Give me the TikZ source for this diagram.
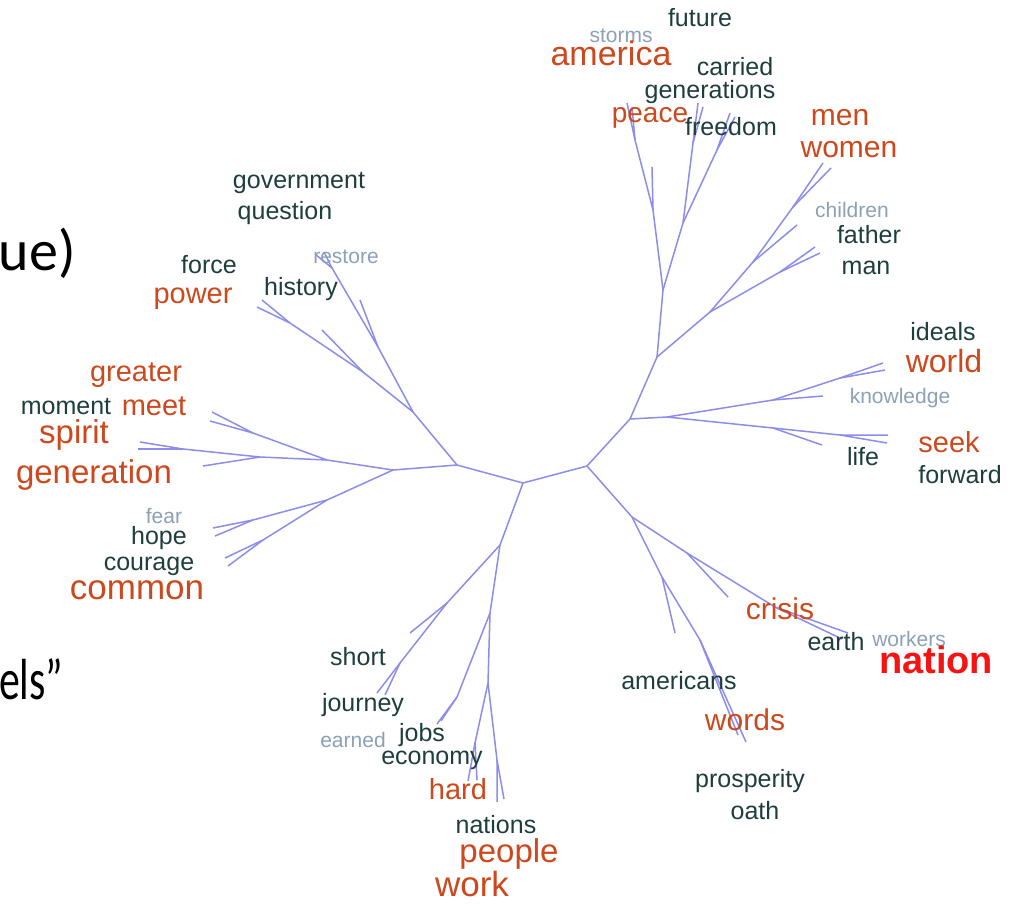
\documentclass[tikz,border=0pt]{standalone}
\usepackage{fontspec}
\usepackage{graphicx}
\setmainfont{Liberation Sans}
\newfontfamily\slidefont{Carlito}
\definecolor{treeblue}{RGB}{140,140,235}
\definecolor{hotred}{RGB}{205,72,28}
\definecolor{nationred}{RGB}{245,20,20}
\definecolor{darkword}{RGB}{30,62,60}
\definecolor{faintword}{RGB}{140,160,182}
\tikzset{
  branch/.style={draw=treeblue, line width=1.5pt, line join=round},
  plain/.style={text=darkword, inner sep=0pt, font=\fontsize{25}{28}\selectfont},
  faint/.style={text=faintword, inner sep=0pt, font=\fontsize{21}{24}\selectfont},
  hot/.style={text=hotred, inner sep=0pt, font=\fontsize{#1}{#1}\selectfont},
  hot/.default=29,
  slide/.style={text=black, inner sep=0pt, font=\slidefont\fontsize{58}{60}\selectfont}
}
\begin{document}
\begin{tikzpicture}[x=1pt,y=-1pt]
  \useasboundingbox (0,0) rectangle (1017,903);
  % cut-off slide text at the left edge
  \node[slide, anchor=base east] (cutA) at (76,270) {ue)};
  \node[slide, anchor=base west] (cutB) at (-1,699) {\scalebox{0.72}[1]{els”}};

  % hubs
  \coordinate (hubL) at (457,465);
  \coordinate (hubB) at (523,483);
  \coordinate (hubR) at (587,466);
  \draw[branch] (hubL) -- (hubB) -- (hubR);

  % upper left
  \coordinate (jQ) at (413,412);
  \coordinate (jR) at (378,347);  \coordinate (rA) at (360,300);
  \coordinate (jRs) at (332,268); \coordinate (rB) at (315,254); \coordinate (rC) at (324,252);
  \coordinate (jP2) at (363,372); \coordinate (pA) at (322,330);
  \coordinate (jP1) at (290,323); \coordinate (pB) at (257,307); \coordinate (pC) at (262,300);
  \draw[branch] (hubL) -- (jQ) -- (jR) -- (jRs) -- (rB);
  \draw[branch] (jRs) -- (rC);
  \draw[branch] (jR) -- (rA);
  \draw[branch] (jQ) -- (jP2) -- (jP1) -- (pB);
  \draw[branch] (jP1) -- (pC);
  \draw[branch] (jP2) -- (pA);

  % left
  \coordinate (jL) at (393,470);
  \coordinate (jM1) at (327,460);
  \coordinate (jG1) at (253,433); \coordinate (gA) at (212,412); \coordinate (gB) at (210,421);
  \coordinate (jM2) at (260,457); \coordinate (gC) at (203,466);
  \coordinate (jS1) at (183,449); \coordinate (sA) at (140,442); \coordinate (sB) at (138,449);
  \draw[branch] (hubL) -- (jL) -- (jM1) -- (jG1) -- (gA);
  \draw[branch] (jG1) -- (gB);
  \draw[branch] (jM1) -- (jM2) -- (jS1) -- (sA);
  \draw[branch] (jS1) -- (sB);
  \draw[branch] (jM2) -- (gC);
  \coordinate (jH0) at (327,500);
  \coordinate (jH1) at (253,520); \coordinate (hA) at (213,528); \coordinate (hB) at (215,536);
  \coordinate (jH2) at (263,540); \coordinate (hC) at (225,558); \coordinate (hD) at (228,566);
  \draw[branch] (jL) -- (jH0) -- (jH1) -- (hA);
  \draw[branch] (jH1) -- (hB);
  \draw[branch] (jH0) -- (jH2) -- (hC);
  \draw[branch] (jH2) -- (hD);

  % bottom
  \coordinate (jB1) at (500,545);
  \coordinate (jB2) at (447,603); \coordinate (bA) at (410,633);
  \coordinate (jB3) at (400,663); \coordinate (bB) at (377,693); \coordinate (bC) at (385,695);
  \coordinate (jB4) at (490,613);
  \coordinate (jB5) at (457,697); \coordinate (bD) at (437,724); \coordinate (bE) at (441,721);
  \coordinate (jB6) at (488,683);
  \coordinate (jB7) at (475,743); \coordinate (bF) at (468,781); \coordinate (bG) at (477,780);
  \coordinate (jB8) at (497,760); \coordinate (bH) at (497,802); \coordinate (bI) at (504,799);
  \draw[branch] (hubB) -- (jB1) -- (jB2) -- (jB3) -- (bB);
  \draw[branch] (jB3) -- (bC);
  \draw[branch] (jB2) -- (bA);
  \draw[branch] (jB1) -- (jB4) -- (jB5) -- (bD);
  \draw[branch] (jB5) -- (bE);
  \draw[branch] (jB4) -- (jB6) -- (jB7) -- (bF);
  \draw[branch] (jB7) -- (bG);
  \draw[branch] (jB6) -- (jB8) -- (bH);
  \draw[branch] (jB8) -- (bI);

  % lower right
  \coordinate (jC1) at (632,517);
  \coordinate (jC2) at (687,553); \coordinate (cA) at (728,597);
  \coordinate (jC3) at (775,607); \coordinate (cB) at (848,633); \coordinate (cC) at (842,639);
  \coordinate (jC4) at (662,577); \coordinate (cD) at (675,633);
  \coordinate (jC5) at (700,640); \coordinate (cE) at (738,735); \coordinate (cF) at (746,742);
  \draw[branch] (hubR) -- (jC1) -- (jC2) -- (jC3) -- (cB);
  \draw[branch] (jC3) -- (cC);
  \draw[branch] (jC2) -- (cA);
  \draw[branch] (jC1) -- (jC4) -- (jC5) -- (cE);
  \draw[branch] (jC5) -- (cF);
  \draw[branch] (jC4) -- (cD);

  % right
  \coordinate (jK0) at (630,419);
  \coordinate (jK1) at (667,417);
  \coordinate (jK2) at (773,400); \coordinate (kA) at (823,396);
  \coordinate (jK3) at (840,378); \coordinate (kB) at (883,363); \coordinate (kC) at (885,370);
  \coordinate (jK4) at (773,428); \coordinate (kD) at (822,445);
  \coordinate (jK5) at (840,435); \coordinate (kE) at (888,435); \coordinate (kF) at (887,443);
  \draw[branch] (hubR) -- (jK0) -- (jK1) -- (jK2) -- (jK3) -- (kB);
  \draw[branch] (jK3) -- (kC);
  \draw[branch] (jK2) -- (kA);
  \draw[branch] (jK1) -- (jK4) -- (jK5) -- (kE);
  \draw[branch] (jK5) -- (kF);
  \draw[branch] (jK4) -- (kD);

  % upper right
  \coordinate (jU0) at (657,357);
  \coordinate (jU1) at (710,312);
  \coordinate (jU2) at (753,262); \coordinate (uA) at (797,225);
  \coordinate (jU3) at (793,207); \coordinate (uB) at (823,163); \coordinate (uC) at (831,168);
  \coordinate (jU4) at (780,272); \coordinate (uD) at (815,247); \coordinate (uE) at (820,253);
  \draw[branch] (jK0) -- (jU0) -- (jU1) -- (jU2) -- (jU3) -- (uB);
  \draw[branch] (jU3) -- (uC);
  \draw[branch] (jU2) -- (uA);
  \draw[branch] (jU1) -- (jU4) -- (uD);
  \draw[branch] (jU4) -- (uE);
  \coordinate (jU5) at (663,290);
  \coordinate (jU6) at (653,210); \coordinate (uF) at (652,167);
  \coordinate (jU7) at (635,140); \coordinate (uG) at (627,103); \coordinate (uH) at (632,107);
  \coordinate (jU8) at (683,223);
  \coordinate (jU9) at (693,143); \coordinate (uI) at (698,103); \coordinate (uJ) at (703,107);
  \coordinate (jU10) at (717,150); \coordinate (uK) at (730,113); \coordinate (uL) at (735,117);
  \draw[branch] (jU0) -- (jU5) -- (jU6) -- (jU7) -- (uG);
  \draw[branch] (jU7) -- (uH);
  \draw[branch] (jU6) -- (uF);
  \draw[branch] (jU5) -- (jU8) -- (jU9) -- (uI);
  \draw[branch] (jU9) -- (uJ);
  \draw[branch] (jU8) -- (jU10) -- (uK);
  \draw[branch] (jU10) -- (uL);

  % words, top
  \node[plain] (future) at (700,18) {future};
  \node[faint] (storms) at (621,36) {storms};
  \node[hot=34] (america) at (611,53) {america};
  \node[plain] (carried) at (735,67) {carried};
  \node[plain] (generations) at (710,92) {generations};
  \node[hot=28] (peace) at (650,118) {peace};
  \node[plain] (freedom) at (731,127) {freedom};
  \node[hot=30] (men) at (840,118) {men};
  \node[hot=30] (women) at (849,150) {women};
  \node[faint] (children) at (852,210) {children};
  \node[plain] (father) at (869,235) {father};
  \node[plain] (man) at (866,268) {man};
  % words, right
  \node[plain] (ideals) at (943,332) {ideals};
  \node[hot=32] (world) at (944,361) {world};
  \node[faint] (knowledge) at (900,398) {knowledge};
  \node[hot] (seek) at (949,442) {seek};
  \node[plain] (life) at (863,457) {life};
  \node[plain] (forward) at (960,475) {forward};
  \node[hot=30] (crisis) at (780,609) {crisis};
  \node[plain] (earth) at (836,642) {earth};
  \node[faint] (workers) at (909,639) {workers};
  \node[text=nationred, inner sep=0pt, font=\bfseries\fontsize{38}{40}\selectfont] (nation) at (936,660) {nation};
  \node[plain] (americans) at (679,681) {americans};
  \node[hot=30] (words) at (745,720) {words};
  \node[plain] (prosperity) at (750,781) {prosperity};
  \node[plain] (oath) at (755,811) {oath};
  % words, bottom
  \node[plain] (short) at (358,657) {short};
  \node[plain] (journey) at (363,705) {journey};
  \node[faint] (earned) at (353,740) {earned};
  \node[plain] (jobs) at (422,735) {jobs};
  \node[plain] (economy) at (432,760) {economy};
  \node[hot] (hard) at (458,789) {hard};
  \node[plain] (nations) at (496,825) {nations};
  \node[hot=33] (people) at (509,854) {people};
  \node[hot=35] (work) at (472,884) {work};
  % words, left
  \node[plain] (government) at (299,183) {government};
  \node[plain] (question) at (285,213) {question};
  \node[faint] (restore) at (346,257) {restore};
  \node[plain] (force) at (209,265) {force};
  \node[plain] (history) at (301,289) {history};
  \node[hot] (power) at (193,299) {power};
  \node[hot] (greater) at (136,375) {greater};
  \node[plain] (moment) at (66,407) {moment};
  \node[hot] (meet) at (154,406) {meet};
  \node[hot=33] (spirit) at (74,435) {spirit};
  \node[hot=33] (generation) at (94,475) {generation};
  \node[faint] (fear) at (164,516) {fear};
  \node[plain] (hope) at (159,538) {hope};
  \node[plain] (courage) at (149,566) {courage};
  \node[hot=35] (common) at (137,590) {common};
\end{tikzpicture}
\end{document}
